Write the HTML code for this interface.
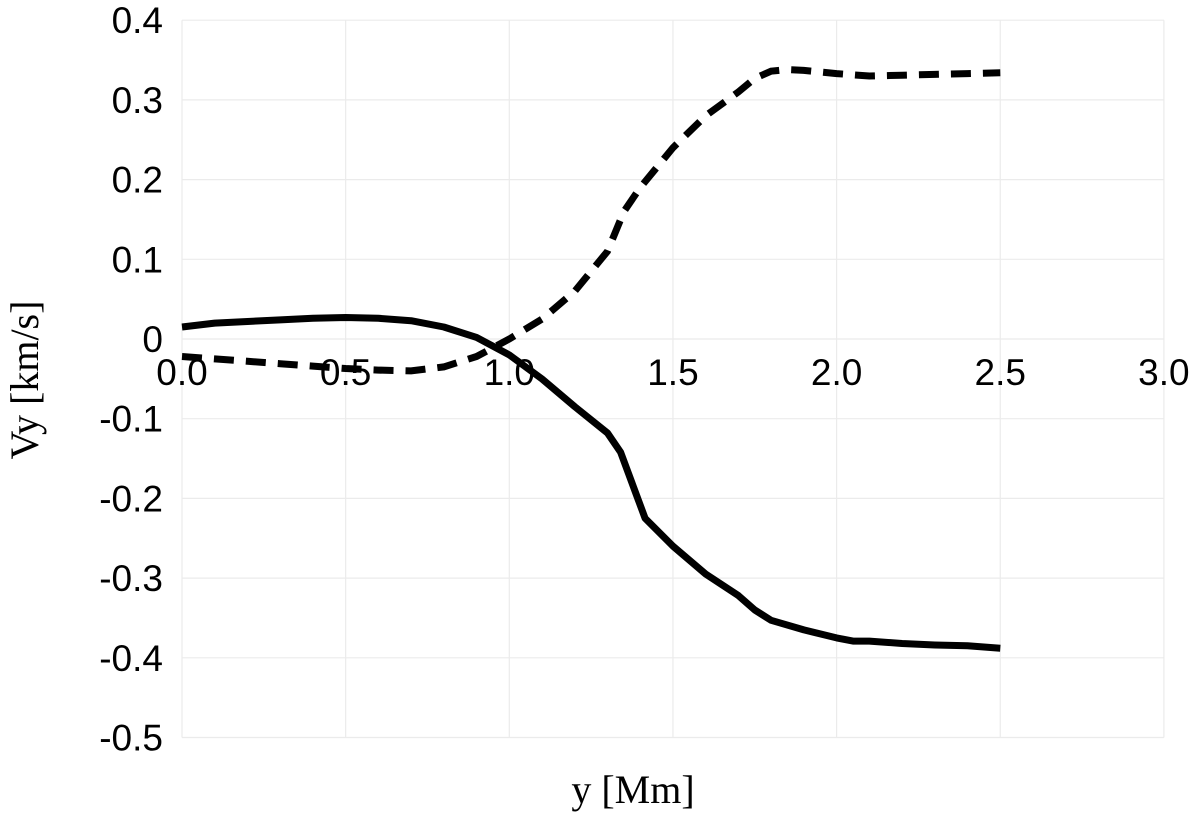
<!DOCTYPE html>
<html><head><meta charset="utf-8"><style>
body{margin:0;background:#fff}
svg{display:block}
.tk{font-family:"Liberation Sans",sans-serif;font-size:37px;fill:#000}
.ti{font-family:"Liberation Serif",serif;font-size:40px;fill:#000}
</style></head><body>
<svg id="c" width="1200" height="816" xmlns="http://www.w3.org/2000/svg">
<g id="grid"></g>
<g id="series"></g>
<g id="ticks"></g>
<text class="ti" x="633" y="803" text-anchor="middle">y [Mm]</text>
<text class="ti" transform="translate(38,380) rotate(-90)" text-anchor="middle">Vy [km/s]</text>
</svg>
<script>
const xTicks=[0,0.5,1.0,1.5,2.0,2.5,3.0];
const xTickLabels=["0.0","0.5","1.0","1.5","2.0","2.5","3.0"];
const yTicks=[0.4,0.3,0.2,0.1,0,-0.1,-0.2,-0.3,-0.4,-0.5];
const yTickLabels=["0.4","0.3","0.2","0.1","0","-0.1","-0.2","-0.3","-0.4","-0.5"];
const solidX=[0,0.1,0.2,0.3,0.4,0.5,0.6,0.7,0.8,0.9,1.0,1.1,1.2,1.3,1.34,1.415,1.5,1.6,1.7,1.75,1.8,1.9,2.0,2.05,2.1,2.2,2.3,2.4,2.5];
const solidY=[0.015,0.020,0.022,0.024,0.026,0.027,0.026,0.023,0.015,0.002,-0.02,-0.05,-0.085,-0.118,-0.142,-0.225,-0.26,-0.295,-0.322,-0.34,-0.353,-0.365,-0.375,-0.379,-0.379,-0.382,-0.384,-0.385,-0.388];
const dashX=[0,0.1,0.2,0.3,0.4,0.5,0.6,0.7,0.8,0.9,1.0,1.1,1.2,1.3,1.35,1.4,1.5,1.6,1.7,1.75,1.8,1.85,1.9,2.0,2.1,2.2,2.3,2.4,2.5];
const dashY=[-0.022,-0.025,-0.028,-0.031,-0.034,-0.037,-0.039,-0.04,-0.035,-0.022,0.0,0.025,0.06,0.11,0.16,0.19,0.24,0.28,0.31,0.327,0.336,0.338,0.337,0.333,0.330,0.331,0.332,0.333,0.334];
const NS="http://www.w3.org/2000/svg";
const sx=v=>182+v*327.3;
const sy=v=>339-v*797;
const grid=document.getElementById('grid'),ticks=document.getElementById('ticks'),series=document.getElementById('series');
function mk(t,a,p){const e=document.createElementNS(NS,t);for(const k in a)e.setAttribute(k,a[k]);p.appendChild(e);return e;}
xTicks.forEach((v,i)=>{
 const l=mk('line',{x1:sx(v),x2:sx(v),y1:sy(0.4),y2:sy(-0.5),stroke:'#ebebeb','stroke-width':1.2},grid);
 
 
 const t=mk('text',{x:sx(v),y:sy(0)+46,'text-anchor':'middle',class:'tk'},ticks);
 t.textContent=xTickLabels[i];
 
 
});
yTicks.forEach((v,i)=>{
 const l=mk('line',{x1:sx(0),x2:sx(3),y1:sy(v),y2:sy(v),stroke:'#ebebeb','stroke-width':1.2},grid);
 
 
 const t=mk('text',{x:163,y:sy(v)+13,'text-anchor':'end',class:'tk'},ticks);
 t.textContent=yTickLabels[i];
 
 
});
function pts(X,Y){return X.map((x,i)=>sx(x).toFixed(1)+','+sy(Y[i]).toFixed(1)).join(' ');}
const s=mk('polyline',{points:pts(solidX,solidY),fill:'none',stroke:'#000','stroke-width':7,'stroke-linejoin':'round'},series);


const d=mk('polyline',{points:pts(dashX,dashY),fill:'none',stroke:'#000','stroke-width':7,'stroke-dasharray':'20 12'},series);


</script>
</body></html>
